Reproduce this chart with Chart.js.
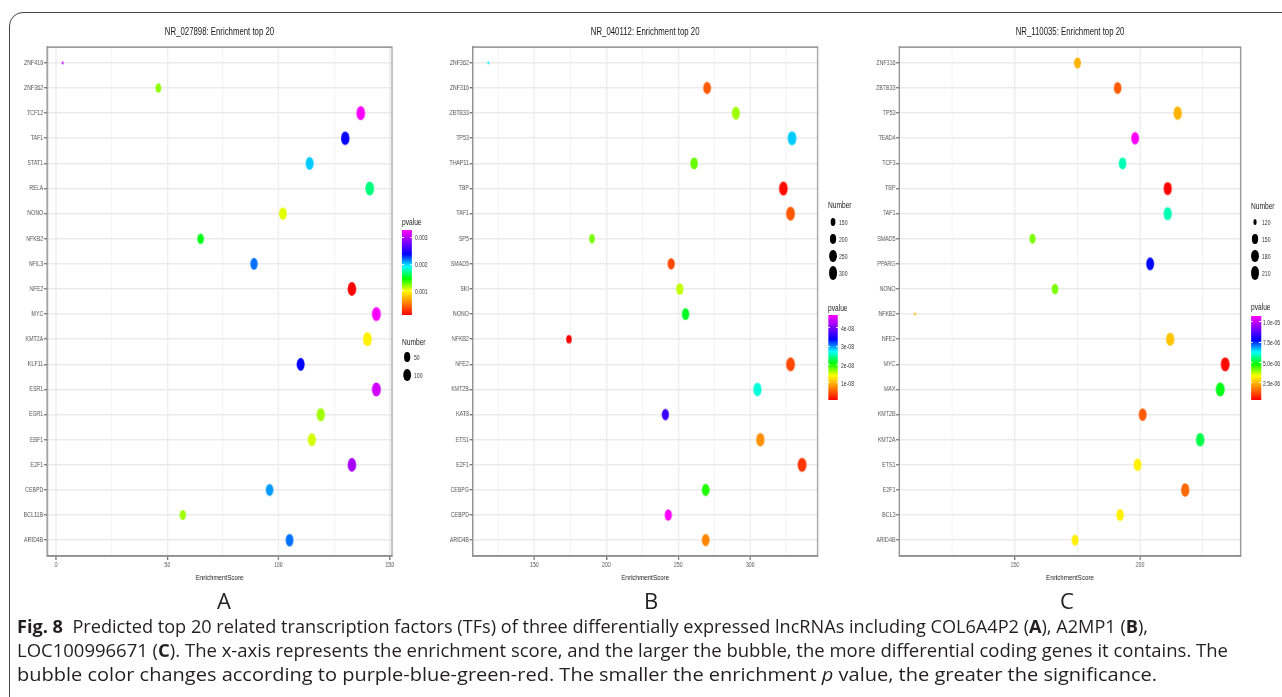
<!DOCTYPE html>
<html>
<head>
<meta charset="utf-8">
<script src="https://cdn.jsdelivr.net/npm/chart.js@4.4.1/dist/chart.umd.min.js"></script>
<style>
html,body{margin:0;padding:0;background:#fff;width:1282px;height:697px;overflow:hidden;}
#frame{position:absolute;left:9px;top:12px;width:1400px;height:800px;border:1.6px solid #444;border-top-left-radius:14px;box-sizing:border-box;}
#fig{position:absolute;left:0;top:0;width:1644px;height:600px;transform:scaleX(0.78);transform-origin:0 0;}
#fig canvas{position:absolute;}
.ptitle{position:absolute;font:10px "Liberation Sans",Arial,sans-serif;color:#1a1a1a;white-space:nowrap;transform:translate(-50%,-50%);}
.lgt{position:absolute;font:8.5px "Liberation Sans",Arial,sans-serif;color:#1a1a1a;white-space:nowrap;transform:translateY(-50%);}
.lgl{position:absolute;font:6.5px "Liberation Sans",Arial,sans-serif;color:#333;white-space:nowrap;transform:translateY(-50%);}
.dot{position:absolute;background:#000;border-radius:50%;}
.cbar{position:absolute;background:linear-gradient(to top,#ff0000,#ff8000,#ffff00,#00ff00,#00ffff,#0000ff,#8000ff,#ff00ff);}
.tk{position:absolute;background:#fff;height:1px;}
.letter{position:absolute;font:400 22px "Open Sans",sans-serif;line-height:22px;color:#222;transform:translateX(-50%);}
.cap{position:absolute;left:17px;font:18px "Open Sans",sans-serif;line-height:20px;white-space:nowrap;transform-origin:0 0;color:#231f20;}
.cap b{font-weight:700;}
</style>
</head>
<body>
<div id="frame"></div>
<div id="fig"></div>
<div class="letter" style="left:224px;top:589px;">A</div>
<div class="letter" style="left:651px;top:589px;">B</div>
<div class="letter" style="left:1067px;top:589px;">C</div>
<div class="cap" id="cap1" data-w="1131" style="top:616px;"><b>Fig. 8</b>&nbsp; Predicted top 20 related transcription factors (TFs) of three differentially expressed lncRNAs including COL6A4P2 (<b>A</b>), A2MP1 (<b>B</b>),</div>
<div class="cap" id="cap2" data-w="1211" style="top:640px;">LOC100996671 (<b>C</b>). The x-axis represents the enrichment score, and the larger the bubble, the more differential coding genes it contains. The</div>
<div class="cap" id="cap3" data-w="1140" style="top:664px;">bubble color changes according to purple-blue-green-red. The smaller the enrichment <i>p</i> value, the greater the significance.</div>
<script>
// ---------------- DATA ----------------
const A_TITLE = 'NR_027898: Enrichment top 20';
const A_CATEGORIES = ['ZNF416','ZNF362','TCF12','TAF1','STAT1','RELA','NONO','NFKB2','NFIL3','NFE2','MYC','KMT2A','KLF11','ESR1','EGR1','EBF1','E2F1','CEBPD','BCL11B','ARID4B'];
const A_SCORE  = [3, 46, 137, 130, 114, 141, 102, 65, 89, 133, 144, 140, 110, 144, 119, 115, 133, 96, 57, 105];
const A_NUMBER = [3, 48, 138, 131, 115, 141, 103, 66, 90, 134, 145, 140, 111, 145, 120, 116, 134, 97, 58, 106];
const A_PVALUE = [0.00304, 0.00121, 0.00326, 0.00238, 0.00200, 0.00168, 0.00106, 0.00150, 0.00216, 0.00011, 0.00323, 0.00096, 0.00238, 0.00310, 0.00118, 0.00109, 0.00295, 0.00209, 0.00118, 0.00216];
const A_XTICKS = [0, 50, 100, 150];
const A_PTICKS = [0.001, 0.002, 0.003];
const A_PTICK_LABELS = ['0.001', '0.002', '0.003'];
const A_NTICKS = [50, 100];

const B_TITLE = 'NR_040112: Enrichment top 20';
const B_CATEGORIES = ['ZNF362','ZNF316','ZBTB33','TP53','THAP11','TBP','TAF1','SP5','SMAD5','SKI','NONO','NFKB2','NFE2','KMT2B','KAT8','ETS1','E2F1','CEBPG','CEBPD','ARID4B'];
const B_SCORE  = [118, 270, 290, 329, 261, 323, 328, 190, 245, 251, 255, 174, 328, 305, 241, 307, 336, 269, 243, 269];
const B_NUMBER = [118, 270, 290, 330, 261, 323, 328, 190, 245, 251, 255, 174, 328, 305, 241, 307, 336, 269, 243, 269];
const B_PVALUE = [2.75e-8, 0.53e-8, 1.64e-8, 2.85e-8, 1.78e-8, 0.12e-8, 0.53e-8, 1.74e-8, 0.44e-8, 1.55e-8, 2.15e-8, 0.07e-8, 0.44e-8, 2.62e-8, 3.68e-8, 0.81e-8, 0.35e-8, 1.97e-8, 4.70e-8, 0.76e-8];
const B_XTICKS = [150, 200, 250, 300];
const B_PTICKS = [1e-8, 2e-8, 3e-8, 4e-8];
const B_PTICK_LABELS = ['1e-08', '2e-08', '3e-08', '4e-08'];
const B_NTICKS = [150, 200, 250, 300];

const C_TITLE = 'NR_110035: Enrichment top 20';
const C_CATEGORIES = ['ZNF316','ZBTB33','TP53','TEAD4','TCF3','TBP','TAF1','SMAD5','PPARG','NONO','NFKB2','NFE2','MYC','MAX','KMT2B','KMT2A','ETS1','E2F1','BCL3','ARID4B'];
const C_SCORE  = [175, 191, 215, 198, 193, 211, 211, 157, 204, 166, 110, 212, 234, 232, 201, 224, 199, 218, 192, 174];
const C_NUMBER = [175, 191, 215, 198, 193, 211, 211, 157, 204, 166, 110, 212, 234, 232, 201, 224, 199, 218, 192, 174];
const C_PVALUE = [2.47e-6, 1.44e-6, 2.47e-6, 10.7e-6, 5.86e-6, 0.41e-6, 5.86e-6, 4.11e-6, 7.72e-6, 4.11e-6, 2.67e-6, 2.67e-6, 0.51e-6, 4.94e-6, 1.44e-6, 5.25e-6, 3.19e-6, 1.64e-6, 3.19e-6, 3.19e-6];
const C_XTICKS = [150, 200];
const C_PTICKS = [2.5e-6, 5.0e-6, 7.5e-6, 1.0e-5];
const C_PTICK_LABELS = ['2.5e-06', '5.0e-06', '7.5e-06', '1.0e-05'];
const C_NTICKS = [120, 150, 180, 210];

// ---------------- STYLE / LAYOUT ----------------
const K = 0.78;               // horizontal squeeze of the figure
const FONT = '"Liberation Sans", Arial, sans-serif';
const STOPS = ['#ff0000','#ff8000','#ffff00','#00ff00','#00ffff','#0000ff','#8000ff','#ff00ff']
  .map(h => [parseInt(h.slice(1,3),16), parseInt(h.slice(3,5),16), parseInt(h.slice(5,7),16)]);

function rainbow(t) {
  t = Math.min(1, Math.max(0, t));
  const s = t * (STOPS.length - 1);
  const i = Math.min(STOPS.length - 2, Math.floor(s));
  const f = s - i, a = STOPS[i], b = STOPS[i + 1];
  return 'rgb(' + [0,1,2].map(k => Math.round(a[k] + (b[k] - a[k]) * f)).join(',') + ')';
}
function radiusFor(n, nmin, nmax) {
  const t = Math.max(0, (n - nmin) / (nmax - nmin));
  return 1.5 + 5.6 * Math.sqrt(t);
}
const cache = {};
function ellipse(color, r) {
  const key = color + '|' + r.toFixed(2);
  if (cache[key]) return cache[key];
  const rx = r * 0.8;
  const c = document.createElement('canvas');
  c.width = Math.ceil(rx * 2) + 2; c.height = Math.ceil(r * 2) + 2;
  const g = c.getContext('2d');
  g.fillStyle = color;
  g.beginPath(); g.ellipse(c.width / 2, c.height / 2, rx, r, 0, 0, Math.PI * 2); g.fill();
  cache[key] = c;
  return c;
}

const panelBorder = {
  id: 'panelBorder',
  afterDraw(chart) {
    const {ctx, chartArea: a} = chart;
    ctx.save();
    ctx.strokeStyle = '#8f8f8f'; ctx.lineWidth = 1.5;
    ctx.strokeRect(a.left, a.top, a.right - a.left, a.bottom - a.top);
    ctx.restore();
  }
};

const fig = document.getElementById('fig');
function el(cls, style, text) {
  const d = document.createElement('div');
  d.className = cls;
  Object.assign(d.style, style);
  if (text !== undefined) d.textContent = text;
  fig.appendChild(d);
  return d;
}

function buildPanel(p) {
  const cats = p.cats, n = cats.length;
  const nmin = Math.min(...p.num), nmax = Math.max(...p.num);
  const pmin = Math.min(...p.pval), pmax = Math.max(...p.pval);
  const smin = Math.min(...p.score), smax = Math.max(...p.score);
  const xMin = smin - 0.05 * (smax - smin), xMax = smax + 0.05 * (smax - smin);
  const xGrid = [];
  for (let v = Math.ceil(xMin / 25) * 25; v <= xMax; v += 25) xGrid.push(v);

  const uL = p.plotL / K, uR = p.plotR / K;
  const cLeft = Math.round(uL - 50);
  const yW = uL - cLeft;
  const cWidth = Math.round(uR - cLeft + 22);
  const padR = cWidth - (uR - cLeft);
  const top = 40, height = 543;

  const canvas = document.createElement('canvas');
  canvas.width = cWidth; canvas.height = height;
  canvas.style.left = cLeft + 'px'; canvas.style.top = top + 'px';
  canvas.style.width = cWidth + 'px'; canvas.style.height = height + 'px';
  fig.appendChild(canvas);

  const data = cats.map((c, i) => ({x: p.score[i], y: i, n: p.num[i], p: p.pval[i]}));
  const chart = new Chart(canvas, {
    type: 'scatter',
    data: {datasets: [{
      data,
      pointStyle: ctx => ellipse(rainbow((ctx.raw.p - pmin) / (pmax - pmin)), radiusFor(ctx.raw.n, nmin, nmax)),
      pointRadius: ctx => radiusFor(ctx.raw.n, nmin, nmax),
      borderWidth: 0
    }]},
    options: {
      responsive: false, animation: false, events: [],
      layout: {padding: {top: 4, right: padR, bottom: 0, left: 0}},
      plugins: {legend: {display: false}, tooltip: {enabled: false}},
      scales: {
        x: {
          type: 'linear', min: xMin, max: xMax,
          afterBuildTicks: s => { s.ticks = xGrid.map(v => ({value: v})); },
          afterFit: s => { s.height = 27; s.paddingLeft = 0; s.paddingRight = 0; },
          ticks: {autoSkip: false, maxRotation: 0, padding: 1, color: '#555',
                  font: {family: FONT, size: 6.75},
                  callback: v => p.xMajor.includes(v) ? String(v) : ''},
          grid: {color: ctx => (ctx.tick && p.xMajor.includes(ctx.tick.value)) ? '#ebebeb' : '#f0f0f0',
                 lineWidth: ctx => (ctx.tick && p.xMajor.includes(ctx.tick.value)) ? 1.6 : 1.2,
                 tickLength: 4,
                 tickColor: ctx => (ctx.tick && p.xMajor.includes(ctx.tick.value)) ? '#444' : 'rgba(0,0,0,0)',
                 tickWidth: 1.2},
          border: {display: true, color: '#8f8f8f', width: 1.5},
          title: {display: true, text: 'EnrichmentScore', color: '#1a1a1a', font: {family: FONT, size: 8}, padding: 0}
        },
        y: {
          type: 'linear', min: -0.63, max: n - 1 + 0.63, reverse: true,
          afterBuildTicks: s => { s.ticks = cats.map((_, i) => ({value: i})); },
          afterFit: s => { s.width = yW; s.paddingTop = 0; s.paddingBottom = 0; },
          ticks: {autoSkip: false, padding: 1, color: '#555', font: {family: FONT, size: 6.75},
                  callback: v => cats[v]},
          grid: {color: '#ebebeb', lineWidth: 1.6, tickLength: 4, tickColor: '#444', tickWidth: 1},
          border: {display: true, color: '#8f8f8f', width: 1.5}
        }
      }
    },
    plugins: [panelBorder]
  });

  const ca = chart.chartArea;
  el('ptitle', {left: (cLeft + (ca.left + ca.right) / 2) + 'px', top: '31px'}, p.title);

  // p-value colour bar
  const lg = p.legend;
  el('lgt', {left: (lg.pX / K) + 'px', top: lg.pTitleY + 'px'}, 'pvalue');
  el('cbar', {left: (lg.pX / K) + 'px', top: lg.barTop + 'px', width: (10 / K) + 'px', height: lg.barH + 'px'});
  p.pTicks.forEach((v, i) => {
    const y = lg.barTop + lg.barH - (v - pmin) / (pmax - pmin) * lg.barH;
    el('tk', {left: (lg.pX / K) + 'px', top: (y - 0.5) + 'px', width: (2 / K) + 'px'});
    el('tk', {left: ((lg.pX + 8) / K) + 'px', top: (y - 0.5) + 'px', width: (2 / K) + 'px'});
    el('lgl', {left: (lg.pLabX / K) + 'px', top: y + 'px'}, p.pTickLabels[i]);
  });
  // Number size legend
  el('lgt', {left: (lg.nX / K) + 'px', top: lg.nTitleY + 'px'}, 'Number');
  p.nTicks.forEach((v, i) => {
    const r = radiusFor(v, nmin, nmax), rx = r * 0.8;
    const y = lg.nYs[i];
    el('dot', {left: (lg.nDotX / K - rx) + 'px', top: (y - r) + 'px', width: (2 * rx) + 'px', height: (2 * r) + 'px'});
    el('lgl', {left: (lg.nLabX / K) + 'px', top: y + 'px'}, String(v));
  });
}

buildPanel({title: A_TITLE, cats: A_CATEGORIES, score: A_SCORE, num: A_NUMBER, pval: A_PVALUE,
  xMajor: A_XTICKS, pTicks: A_PTICKS, pTickLabels: A_PTICK_LABELS, nTicks: A_NTICKS,
  plotL: 47, plotR: 392,
  legend: {pX: 402, pTitleY: 222, barTop: 230, barH: 85, pLabX: 415,
           nX: 402, nTitleY: 342, nDotX: 407, nLabX: 414, nYs: [357, 375]}});
buildPanel({title: B_TITLE, cats: B_CATEGORIES, score: B_SCORE, num: B_NUMBER, pval: B_PVALUE,
  xMajor: B_XTICKS, pTicks: B_PTICKS, pTickLabels: B_PTICK_LABELS, nTicks: B_NTICKS,
  plotL: 472.7, plotR: 817.7,
  legend: {pX: 828, pTitleY: 308, barTop: 315, barH: 85, pLabX: 841,
           nX: 828, nTitleY: 205, nDotX: 833, nLabX: 839, nYs: [222, 239, 256, 273]}});
buildPanel({title: C_TITLE, cats: C_CATEGORIES, score: C_SCORE, num: C_NUMBER, pval: C_PVALUE,
  xMajor: C_XTICKS, pTicks: C_PTICKS, pTickLabels: C_PTICK_LABELS, nTicks: C_NTICKS,
  plotL: 899.3, plotR: 1240.7,
  legend: {pX: 1251, pTitleY: 307, barTop: 316, barH: 84, pLabX: 1263,
           nX: 1251, nTitleY: 206, nDotX: 1255, nLabX: 1262, nYs: [222, 239, 256, 273]}});

// fit caption lines to their widths
document.querySelectorAll('.cap').forEach(c => {
  const w = c.getBoundingClientRect().width;
  const target = parseFloat(c.dataset.w);
  c.style.transform = 'scaleX(' + (target / w) + ')';
});
</script>
</body>
</html>
